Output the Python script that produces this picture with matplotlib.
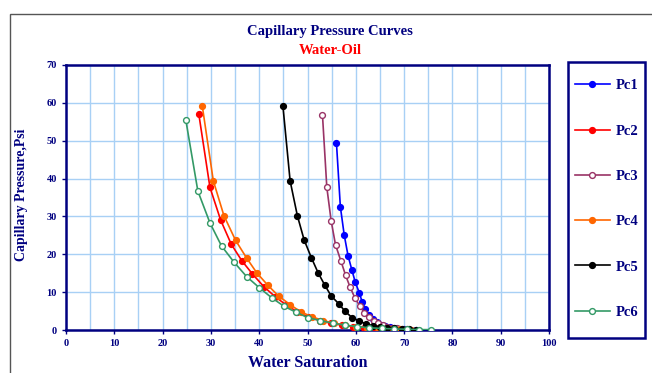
import matplotlib
matplotlib.use("Agg")
import matplotlib.pyplot as plt
from matplotlib.patches import Rectangle

NAVY = "#000080"
GRID = "#a8d0f5"

# water saturation / capillary pressure
pc1_x = [56.0, 56.8, 57.6, 58.4, 59.2, 59.9, 60.7, 61.3, 62.0, 62.8, 63.6, 64.4, 65.2, 66.0, 67.0, 68.0, 69.0, 70.0, 71.0, 72.5]
pc1_y = [49.3, 32.6, 25.1, 19.6, 15.8, 12.6, 9.9, 7.5, 5.5, 3.9, 2.9, 2.0, 1.4, 1.0, 0.7, 0.5, 0.3, 0.2, 0.1, 0.1]

pc2_x = [27.5, 29.8, 32.0, 34.2, 36.4, 38.6, 41.0, 43.3, 45.6, 47.9, 50.2, 52.5, 54.8, 57.1, 59.4, 61.7, 64.0, 66.3, 68.6, 70.9]
pc2_y = [57.0, 37.7, 29.1, 22.7, 18.3, 14.8, 11.4, 8.8, 6.6, 4.8, 3.4, 2.5, 1.8, 1.3, 0.9, 0.6, 0.4, 0.3, 0.2, 0.1]

pc3_x = [53.1, 54.0, 54.9, 55.8, 56.9, 57.9, 58.8, 59.8, 60.8, 61.8, 62.7, 63.7, 64.6, 65.6, 66.5, 67.5, 68.5, 69.5, 70.5, 71.5]
pc3_y = [56.8, 37.7, 28.8, 22.5, 18.3, 14.4, 11.4, 8.5, 6.4, 4.5, 3.4, 2.5, 1.8, 1.3, 0.9, 0.6, 0.4, 0.3, 0.2, 0.1]

pc4_x = [28.2, 30.5, 32.7, 35.1, 37.4, 39.5, 41.8, 44.0, 46.4, 48.6, 50.9, 53.2, 55.5, 57.8, 60.0, 62.3, 64.6, 66.9, 69.2, 71.5]
pc4_y = [59.3, 39.4, 30.2, 23.7, 19.0, 15.1, 11.8, 9.0, 6.7, 4.8, 3.5, 2.5, 1.8, 1.3, 0.9, 0.6, 0.4, 0.3, 0.2, 0.1]

pc5_x = [44.9, 46.4, 47.9, 49.3, 50.8, 52.2, 53.6, 54.9, 56.5, 57.8, 59.2, 60.7, 62.1, 63.6, 65.0, 66.5, 68.0, 69.5, 71.0, 72.4]
pc5_y = [59.3, 39.4, 30.2, 23.8, 19.1, 15.1, 11.8, 9.0, 6.9, 4.9, 3.3, 2.4, 1.6, 1.1, 0.8, 0.6, 0.4, 0.3, 0.2, 0.1]

pc6_x = [24.8, 27.3, 29.8, 32.2, 34.8, 37.4, 40.0, 42.6, 45.1, 47.6, 50.0, 52.6, 55.2, 57.7, 60.3, 62.8, 65.4, 67.9, 70.5, 73.0, 75.6]
pc6_y = [55.5, 36.7, 28.3, 22.2, 17.9, 14.1, 11.2, 8.5, 6.3, 4.7, 3.3, 2.5, 1.8, 1.3, 0.9, 0.6, 0.4, 0.3, 0.2, 0.1, 0.1]

series = [
    ("Pc1", pc1_x, pc1_y, "#0000ff", True),
    ("Pc2", pc2_x, pc2_y, "#ff0000", True),
    ("Pc3", pc3_x, pc3_y, "#993366", False),
    ("Pc4", pc4_x, pc4_y, "#ff6600", True),
    ("Pc5", pc5_x, pc5_y, "#000000", True),
    ("Pc6", pc6_x, pc6_y, "#339966", False),
]

plt.rcParams["font.family"] = ["Liberation Serif", "DejaVu Serif"]

fig = plt.figure(figsize=(6.52, 3.73), dpi=100)

# grey outer frame of the chart object
fig.patches.append(Rectangle((10 / 652, -0.05), 1.0, 1 - 14 / 373 + 0.05,
                             transform=fig.transFigure, fill=False,
                             edgecolor="#555555", lw=1.0))

ax = fig.add_axes([66 / 652, 1 - 330 / 373, (549 - 66) / 652, (330 - 65) / 373])

handles = []
for name, xs, ys, color, filled in series:
    face = color if filled else "white"
    (ln,) = ax.plot(xs, ys, color=color, lw=1.2, marker="o", ms=4.2,
                    mfc=face, mec=color, mew=1.0, label=name, zorder=3)
    handles.append(ln)

ax.set_xlim(0, 100)
ax.set_ylim(0, 70)
ax.set_xticks(range(0, 101, 10))
ax.set_yticks(range(0, 71, 10))
ax.set_xticks(range(5, 100, 10), minor=True)
ax.grid(True, which="both", color=GRID, lw=1.0, zorder=0)
ax.set_axisbelow(True)
ax.tick_params(which="major", colors=NAVY, labelsize=7.5, length=3, width=1)
ax.tick_params(which="minor", length=0)
for lbl in ax.get_xticklabels() + ax.get_yticklabels():
    lbl.set_fontweight("bold")
for sp in ax.spines.values():
    sp.set_color(NAVY)
    sp.set_linewidth(1.8)

fig.text(22 / 652, 1 - 195 / 373, "Capillary Pressure,Psi", rotation=90,
         ha="center", va="center", color=NAVY, fontsize=10, fontweight="bold")
fig.text(308 / 652, 1 - 363 / 373, "Water Saturation", ha="center", va="center",
         color=NAVY, fontsize=11.5, fontweight="bold")
fig.text(330 / 652, 1 - 32 / 373, "Capillary Pressure Curves", ha="center", va="center",
         color=NAVY, fontsize=10.5, fontweight="bold")
fig.text(330 / 652, 1 - 50 / 373, "Water-Oil", ha="center", va="center",
         color="#ff0000", fontsize=10.5, fontweight="bold")

# legend box on the right
fig.patches.append(Rectangle((568 / 652, 1 - 338 / 373), (645 - 568) / 652, (338 - 62) / 373,
                             transform=fig.transFigure, fill=False,
                             edgecolor=NAVY, lw=1.8))
leg = fig.legend(handles=handles, loc="center", frameon=False,
                 bbox_to_anchor=((568 + 645) / 2 / 652, 1 - 199 / 373),
                 labelspacing=2.2, handlelength=2.4, handletextpad=0.4,
                 prop={"size": 10.5, "weight": "bold"})
for t in leg.get_texts():
    t.set_color(NAVY)

fig.savefig("out.png", dpi=100)
